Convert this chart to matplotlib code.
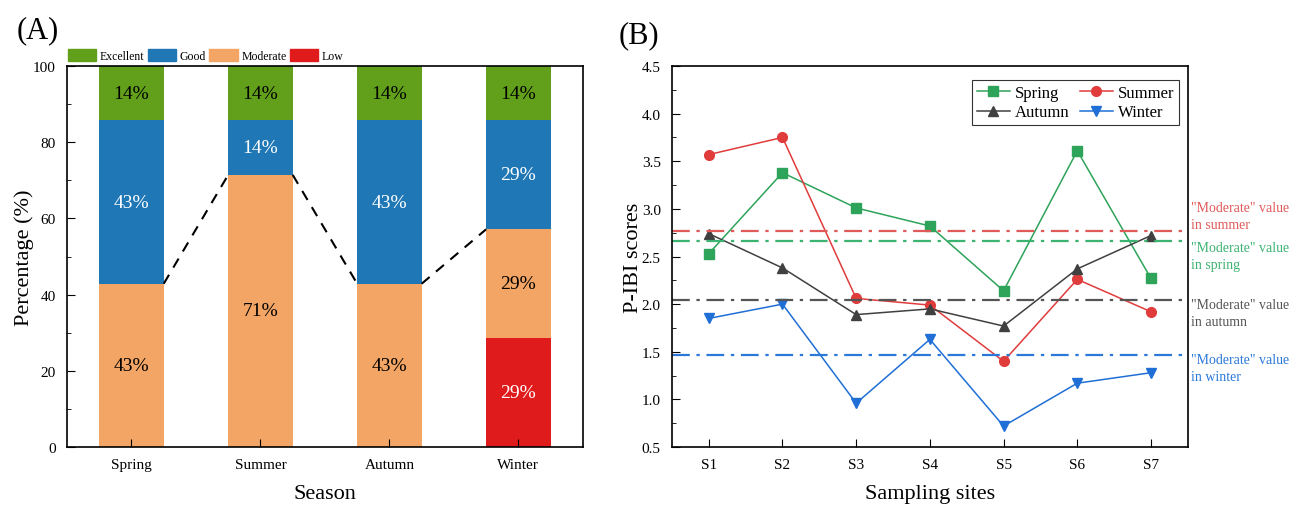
import numpy as np
import matplotlib
matplotlib.use("Agg")
import matplotlib.pyplot as plt
from matplotlib.patches import Patch
from matplotlib.ticker import MultipleLocator

plt.rcParams['font.family'] = ['Liberation Serif', 'DejaVu Serif']

# ---- data (A) ----
seasons = ["Spring", "Summer", "Autumn", "Winter"]
low = [0, 0, 0, 2 / 7 * 100]
moderate = [3 / 7 * 100, 5 / 7 * 100, 3 / 7 * 100, 2 / 7 * 100]
good = [3 / 7 * 100, 1 / 7 * 100, 3 / 7 * 100, 2 / 7 * 100]
excellent = [1 / 7 * 100, 1 / 7 * 100, 1 / 7 * 100, 1 / 7 * 100]

# ---- data (B) ----
sites = ["S1", "S2", "S3", "S4", "S5", "S6", "S7"]
spring = [2.53, 3.38, 3.01, 2.82, 2.14, 3.61, 2.27]
summer = [3.57, 3.75, 2.06, 1.99, 1.40, 2.26, 1.92]
autumn = [2.74, 2.38, 1.89, 1.95, 1.77, 2.37, 2.72]
winter = [1.85, 2.00, 0.96, 1.63, 0.72, 1.17, 1.28]
moderate_ref = {"summer": 2.77, "spring": 2.66, "autumn": 2.04, "winter": 1.47}

c_exc, c_good, c_mod, c_low = "#62a01b", "#1f77b6", "#f2a564", "#e01b1c"

fig = plt.figure(figsize=(13.06, 5.06), dpi=100)
axA = fig.add_axes([0.0513, 0.1146, 0.395, 0.753])
axB = fig.add_axes([0.5145, 0.1146, 0.395, 0.753])

# ---------- panel A ----------
x = np.arange(1, 5)
w = 0.5
stacks = [(low, c_low, "Low"), (moderate, c_mod, "Moderate"),
          (good, c_good, "Good"), (excellent, c_exc, "Excellent")]
bottom = np.zeros(4)
for vals, col, name in stacks:
    vals = np.array(vals)
    axA.bar(x, vals, w, bottom=bottom, color=col, edgecolor="none")
    for i in range(4):
        if vals[i] > 0:
            tc = "white" if col in (c_good, c_low) else "black"
            axA.text(x[i], bottom[i] + vals[i] / 2, f"{round(vals[i])}%",
                     ha="center", va="center", fontsize=14, color=tc)
    bottom += vals

mod_top = np.array(low) + np.array(moderate)
for i in range(3):
    axA.plot([x[i] + w / 2, x[i + 1] - w / 2], [mod_top[i], mod_top[i + 1]],
             ls="--", color="black", lw=1.5, dashes=(5, 4))

axA.set_xlim(0.5, 4.5)
axA.set_ylim(0, 100)
axA.set_xticks(x)
axA.set_xticklabels(seasons, fontsize=11)
axA.yaxis.set_major_locator(MultipleLocator(20))
axA.yaxis.set_minor_locator(MultipleLocator(10))
axA.tick_params(axis="y", labelsize=11)
axA.set_ylabel("Percentage (%)", fontsize=16, labelpad=-1)
axA.set_xlabel("Season", fontsize=16, labelpad=9)
handles = [Patch(color=c_exc, label="Excellent"), Patch(color=c_good, label="Good"),
           Patch(color=c_mod, label="Moderate"), Patch(color=c_low, label="Low")]
axA.legend(handles=handles, ncol=4, loc="lower left", bbox_to_anchor=(-0.01, 0.995),
           frameon=False, fontsize=8.5, handlelength=2.4, handleheight=1.2,
           handletextpad=0.3, columnspacing=0.3, borderaxespad=0.1)
fig.text(0.013, 0.925, "(A)", fontsize=22)

# ---------- panel B ----------
xs = np.arange(1, 8)
series = [(spring, "#2ea35a", "s", "Spring"), (summer, "#e03c3c", "o", "Summer"),
          (autumn, "#404040", "^", "Autumn"), (winter, "#1f6fd6", "v", "Winter")]
lines = {}
for vals, col, mk, name in series:
    lines[name], = axB.plot(xs, vals, color=col, marker=mk, markersize=7, lw=1.1, label=name)

ref_lines = [("summer", "#e05a5a", '"Moderate" value\nin summer'),
             ("spring", "#3cb371", '"Moderate" value\nin spring'),
             ("autumn", "#555555", '"Moderate" value\nin autumn'),
             ("winter", "#2a78d8", '"Moderate" value\nin winter')]
text_y = {"summer": 2.93, "spring": 2.51, "autumn": 1.91, "winter": 1.33}
for key, col, txt in ref_lines:
    axB.axhline(moderate_ref[key], color=col, ls="-.", lw=1.6, dashes=(8, 3, 1.5, 3))
    axB.text(7.55, text_y[key], txt, color=col, fontsize=10, ha="left", va="center",
             linespacing=1.4)

axB.set_xlim(0.5, 7.5)
axB.set_ylim(0.5, 4.5)
axB.set_xticks(xs)
axB.set_xticklabels(sites, fontsize=11)
axB.yaxis.set_major_locator(MultipleLocator(0.5))
axB.yaxis.set_minor_locator(MultipleLocator(0.25))
axB.yaxis.set_major_formatter(matplotlib.ticker.FormatStrFormatter("%.1f"))
axB.tick_params(axis="y", labelsize=11)
axB.set_ylabel("P-IBI scores", fontsize=16, labelpad=-1)
axB.set_xlabel("Sampling sites", fontsize=16, labelpad=9)
order = ["Spring", "Autumn", "Summer", "Winter"]
leg = axB.legend([lines[n] for n in order], order, ncol=2, loc="upper right", fontsize=12,
                 frameon=True, fancybox=False, edgecolor="black", handlelength=2.0,
                 handletextpad=0.3, columnspacing=0.6, borderpad=0.3, labelspacing=0.2,
                 bbox_to_anchor=(1.0, 0.985))
leg.get_frame().set_linewidth(0.8)
fig.text(0.474, 0.915, "(B)", fontsize=22)

for ax in (axA, axB):
    for s in ax.spines.values():
        s.set_linewidth(1.2)
    ax.tick_params(which="major", direction="in", length=6, pad=8)
    ax.tick_params(which="minor", direction="in", length=3)

fig.savefig("out.png", dpi=100)
